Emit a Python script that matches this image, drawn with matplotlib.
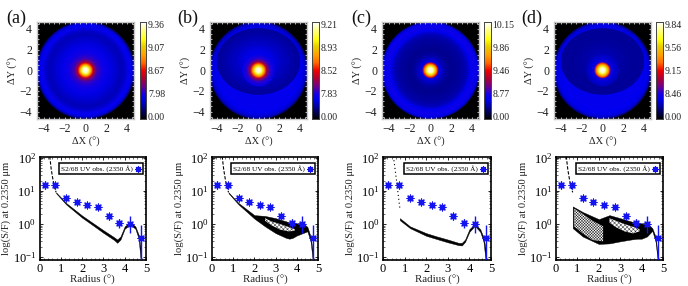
import numpy as np
import matplotlib
matplotlib.use('Agg')
import matplotlib.pyplot as plt
from matplotlib.colors import LinearSegmentedColormap

plt.rcParams['font.family'] = ['Liberation Serif', 'DejaVu Sans']
plt.rcParams['mathtext.fontset'] = 'stix'
plt.rcParams['hatch.linewidth'] = 0.3

W, H = 688, 286

panel_names = ['(a)', '(b)', '(c)', '(d)']
cbar_labels = [['0.00', '7.98', '8.67', '9.07', '9.36'],
               ['0.00', '7.83', '8.52', '8.93', '9.21'],
               ['0.00', '8.77', '9.46', '9.86', '10.15'],
               ['0.00', '8.46', '9.15', '9.56', '9.84']]

# colour level (0-1 along the colour bar) against radius
core_r = [0, 0.15, 0.3, 0.42, 0.55, 0.68, 0.8, 1.1, 1.5]
core_a = [1.0, 0.98, 0.90, 0.78, 0.64, 0.52, 0.40, 0.30, 0.25]
core_b = [1.0, 0.98, 0.90, 0.78, 0.66, 0.54, 0.40, 0.28, 0.21]
core_c = [1.0, 0.98, 0.90, 0.78, 0.64, 0.52, 0.22, 0.17, 0.13]
core_d = [1.0, 0.98, 0.90, 0.78, 0.66, 0.54, 0.26, 0.18, 0.16]

disc_r = [1.5, 2.0, 2.5, 3.0, 3.5, 3.8, 4.1, 4.4, 4.6, 4.68]
disc_a = [0.25, 0.22, 0.19, 0.17, 0.155, 0.17, 0.22, 0.20, 0.15, 0.07]
disc_b = [0.21, 0.21, 0.21, 0.21, 0.21, 0.21, 0.20, 0.18, 0.15, 0.07]
disc_c = [0.13, 0.12, 0.125, 0.135, 0.16, 0.20, 0.23, 0.22, 0.18, 0.07]
disc_d = [0.21, 0.21, 0.21, 0.21, 0.21, 0.21, 0.20, 0.19, 0.15, 0.07]

bowl_r = [0.0, 1.0, 2.0, 3.0, 3.6, 3.95]
bowl_b = [0.21, 0.20, 0.17, 0.145, 0.135, 0.13]
bowl_d = [0.16, 0.15, 0.135, 0.125, 0.125, 0.13]

# observations
obs_r = [0.25, 0.75, 1.25, 1.75, 2.25, 2.75, 3.25, 3.75, 4.25, 4.75]
obs_v = [15, 15, 6, 4.5, 3.7, 3.2, 1.7, 1.1, 1.0, 0.38]
obs_lo = [11, 11.5, 5, 3.8, 3.1, 2.7, 1.35, 0.78, 0.55, 0.07]
obs_hi = [20, 19, 7.2, 5.3, 4.4, 3.8, 2.1, 1.45, 1.8, 0.95]

# steep inner part of the model
steep_r = [0.48, 0.55, 0.62, 0.70, 0.78]
steep_a = [110, 45, 24, 13, 9]
steep_c = [110, 50, 22, 8, 3]

band_r = [0.78, 1.25, 2.0, 2.5, 3.0, 3.5, 3.65, 3.8, 4.0, 4.25, 4.5, 4.65, 4.75]
band_a_lo = [8.5, 3.9, 1.55, 0.92, 0.54, 0.33, 0.27, 0.34, 0.72, 0.96, 0.72, 0.37, 0.08]
band_a_hi = [9.0, 4.3, 1.8, 1.08, 0.65, 0.4, 0.34, 0.42, 0.85, 1.15, 0.85, 0.48, 0.18]
band_b_lo = [8.5, 3.9, 1.45, 0.85, 0.53, 0.38, 0.36, 0.38, 0.45, 0.52, 0.6, 0.3, 0.08]
band_b_hi = [9.0, 4.3, 1.85, 1.75, 1.5, 1.2, 1.12, 1.08, 1.05, 1.1, 0.82, 0.42, 0.15]
band_c_lo = [1.3, 0.75, 0.44, 0.35, 0.28, 0.23, 0.225, 0.29, 0.58, 0.88, 0.58, 0.3, 0.08]
band_c_hi = [1.5, 0.85, 0.53, 0.42, 0.34, 0.27, 0.27, 0.34, 0.7, 1.02, 0.7, 0.4, 0.18]
band_d_lo = [0.75, 0.42, 0.25, 0.26, 0.3, 0.34, 0.35, 0.36, 0.36, 0.42, 0.62, 0.3, 0.08]
band_d_hi = [3.4, 2.3, 1.4, 1.85, 1.5, 1.2, 1.12, 1.08, 1.05, 1.08, 0.75, 0.42, 0.12]

# speckled holes inside the model bands
hole_b_r = [2.5, 2.8, 3.2, 3.6, 3.9]
hole_b_lo = [1.25, 0.92, 0.68, 0.6, 0.62]
hole_b_hi = [1.5, 1.2, 1.0, 0.82, 0.7]
hole_d1_r = [0.85, 1.25, 1.7, 2.2]
hole_d1_lo = [0.85, 0.52, 0.33, 0.3]
hole_d1_hi = [2.9, 2.0, 1.25, 0.85]
hole_d2_r = [2.5, 2.8, 3.2, 3.6, 3.9]
hole_d2_lo = [1.1, 0.8, 0.6, 0.52, 0.6]
hole_d2_hi = [1.5, 1.25, 1.0, 0.82, 0.7]

map_layers = [
    [(0, 0, 1, 1, disc_r, disc_a), (0, 0, 1, 1, core_r, core_a)],
    [(0, 0, 1, 1, disc_r, disc_b), (0, 0.85, 1, 0.8, bowl_r, bowl_b), (0, 0, 1, 1, core_r, core_b)],
    [(0, 0, 1, 1, disc_r, disc_c), (0, 0, 1, 1, core_r, core_c)],
    [(0, 0, 1, 1, disc_r, disc_d), (0, 0.85, 1, 0.8, bowl_r, bowl_d), (0, 0, 1, 1, core_r, core_d)],
]
bands = [(band_a_lo, band_a_hi), (band_b_lo, band_b_hi), (band_c_lo, band_c_hi), (band_d_lo, band_d_hi)]
steeps = [steep_a, steep_a, steep_c, steep_a]
holes = [[], [(hole_b_r, hole_b_lo, hole_b_hi, 'xxxxxxxx')], [],
         [(hole_d1_r, hole_d1_lo, hole_d1_hi, 'xxxxxxxxxxxx'), (hole_d2_r, hole_d2_lo, hole_d2_hi, 'xxxxxxxx')]]

# pixel boxes
map_x = [37, 210, 382, 554]
bar_x = [139.5, 312, 484, 656]
prof_x = [(39.5, 146), (212, 318), (383, 491), (556, 663)]
label_x = [6, 177, 351, 521]

cmap = LinearSegmentedColormap.from_list('map', [
    (0.0, '#000000'), (0.1, '#00007a'), (0.2, '#0000f0'), (0.26, '#1a00e0'),
    (0.33, '#6a0090'), (0.42, '#b00030'), (0.5, '#f00000'), (0.58, '#ff6a00'),
    (0.66, '#ffa000'), (0.75, '#e8d000'), (0.82, '#ffff10'), (0.92, '#ffff90'), (1.0, '#ffffff')])


def axbox(fig, x0, y0, x1, y1):
    return fig.add_axes([x0 / W, 1 - y1 / H, (x1 - x0) / W, (y1 - y0) / H])


fig = plt.figure(figsize=(W / 100, H / 100), dpi=100)
theta = np.linspace(0, 2 * np.pi, 181)

for i in range(4):
    # map
    ax = axbox(fig, map_x[i], 22, map_x[i] + 97, 118.5)
    ax.set_facecolor('black')
    for cx, cy, sx, sy, radii, levels in map_layers[i]:
        rr, tt = np.meshgrid(radii, theta)
        cc = np.tile(levels, (len(theta), 1))
        ax.pcolormesh(cx + sx * rr * np.cos(tt), cy + sy * rr * np.sin(tt), cc,
                      shading='gouraud', cmap=cmap, vmin=0, vmax=1)
    ax.set_xlim(-4.66, 4.66)
    ax.set_ylim(-4.66, 4.66)
    ax.set_xticks([-4, -2, 0, 2, 4])
    ax.set_yticks([-4, -2, 0, 2, 4])
    ax.set_xticks(np.arange(-4.5, 5, 0.5), minor=True)
    ax.set_yticks(np.arange(-4.5, 5, 0.5), minor=True)
    ax.tick_params(which='both', direction='in', top=True, right=True, color='white', width=0.5,
                   length=1.5, labelsize=8.5, pad=3.5, labelcolor='#222222')
    ax.set_xticklabels(['\u22124', '\u22122', '0', '2', '4'])
    ax.set_yticklabels(['\u22124', '\u22122', '0', '2', '4'])
    for s in ax.spines.values():
        s.set_color('#c8c8c8')
        s.set_linewidth(1.0)
    ax.set_xlabel('\u0394X (\u00b0)', fontsize=7.5, labelpad=1.5, color='#222222')
    ax.set_ylabel('\u0394Y (\u00b0)', fontsize=7.5, labelpad=1, color='#222222')
    fig.text(label_x[i] / W, 1 - 18 / H, panel_names[i], fontsize=13, va='center', ha='left', color='#111111')

    # colour bar
    cax = axbox(fig, bar_x[i], 22, bar_x[i] + 6.5, 119)
    cax.imshow(np.linspace(1, 0, 256)[:, None], aspect='auto', cmap=cmap, vmin=0, vmax=1, extent=[0, 1, 0, 1])
    cax.set_xticks([])
    cax.yaxis.tick_right()
    cax.set_yticks([0.03, 0.265, 0.5, 0.74, 0.975])
    cax.set_yticklabels(cbar_labels[i])
    cax.tick_params(axis='y', length=0, labelsize=7, pad=1.5, labelcolor='#222222')
    for s in cax.spines.values():
        s.set_color('#444444')
        s.set_linewidth(0.7)

    # profile
    px = axbox(fig, prof_x[i][0], 157, prof_x[i][1], 260)
    px.set_yscale('log')
    lo, hi = bands[i]
    px.plot(steep_r, steeps[i], color='black', lw=0.8, ls=(0, (3, 1.5)) if i != 2 else (0, (1, 2.5)))
    px.fill_between(band_r, lo, hi, color='black', lw=0.3)
    for hr, hlo, hhi, hp in holes[i]:
        px.fill_between(hr, hlo, hhi, facecolor='white', edgecolor='#111111', hatch=hp, lw=0)
    yerr = [np.array(obs_v) - np.array(obs_lo), np.array(obs_hi) - np.array(obs_v)]
    px.errorbar(obs_r, obs_v, yerr=yerr, fmt='none', ecolor='#1414f0', elinewidth=1.0, zorder=4)
    sc = px.scatter(obs_r, obs_v, marker=(8, 2, 0), s=24, color='#1414f0', linewidths=0.9, zorder=5)
    px.scatter(obs_r, obs_v, marker='s', s=12, color='#1414f0', linewidths=0, zorder=5)
    px.set_xlim(0, 5)
    px.set_ylim(0.082, 105)
    px.set_xticks([0, 1, 2, 3, 4, 5])
    px.set_yticks([0.1, 1, 10, 100])
    px.minorticks_on()
    px.tick_params(which='major', direction='in', top=True, right=True, length=2.5, width=0.6, labelsize=9, pad=2.5)
    px.tick_params(which='minor', direction='in', top=True, right=True, length=1.2, width=0.4)
    for s in px.spines.values():
        s.set_linewidth(1.2)
    px.set_xlabel('Radius (\u00b0)', fontsize=7.8, labelpad=-0.5, color='#222222')
    px.set_ylabel('log(S/F) at 0.2350 \u03bcm', fontsize=7.6, labelpad=1, color='#222222')
    leg = px.legend([sc], ['S2/68 UV obs. (2350 \u00c5)'], loc='upper right', fontsize=5.3, markerfirst=False,
                    fancybox=False, framealpha=1, edgecolor='black', scatterpoints=1, markerscale=0.85,
                    handletextpad=0.2, borderpad=0.25, handlelength=1, bbox_to_anchor=(0.975, 0.94), borderaxespad=0)
    leg.get_frame().set_linewidth(1.1)
    leg.set_zorder(6)

fig.savefig('out.png', dpi=100)
